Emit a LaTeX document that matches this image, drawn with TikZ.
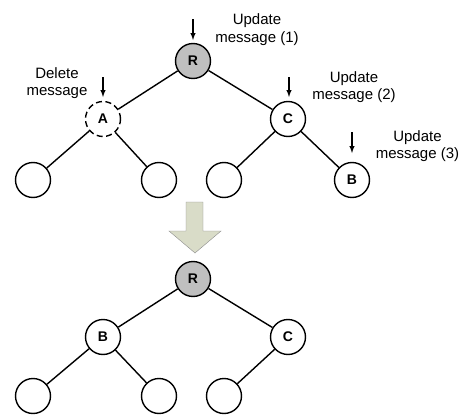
\documentclass[tikz,border=0pt]{standalone}
\usepackage{fontspec}
\setmainfont{Liberation Sans}
\begin{document}
\begin{tikzpicture}[x=1pt,y=-1pt,>=latex,
	every node/.style={font=\fontsize{15}{17.5}\selectfont},
	tnode/.style={draw,circle,line width=1.4pt,minimum size=35pt,inner sep=0pt,font=\fontsize{14}{16}\selectfont\bfseries},
	msg/.style={align=center,inner sep=0pt}]
				\useasboundingbox (0,0) rectangle (461,415);
				% before
				\node[tnode,fill=black!25] (root) at (193,61) {R};
				\node[tnode,dash pattern=on 6pt off 3.5pt] (a) at (103,119) {A};
				\node[tnode] (c) at (288,119) {C};
				\node[tnode] (l1) at (33,180) {};
				\node[tnode] (l2) at (159,180) {};
				\node[tnode] (l3) at (224,180) {};
				\node[tnode] (b) at (352,180) {B};

				\draw[line width=1.4pt] (root) -- (a);
				\draw[line width=1.4pt] (root) -- (c);
				\draw[line width=1.4pt] (a) -- (l1);
				\draw[line width=1.4pt] (a) -- (l2);
				\draw[line width=1.4pt] (c) -- (l3);
				\draw[line width=1.4pt] (c) -- (b);

				\node[msg] (m1) at (257,29.5) {Update\\message (1)};
				\node[msg] (m0) at (57,83) {Delete\\message};
				\node[msg] (m2) at (354,87) {Update\\message (2)};
				\node[msg] (m3) at (417.5,146) {Update\\message (3)};

				\coordinate (r0) at (193,19);
				\coordinate (r1) at (193,40);
				\coordinate (a0) at (103,77);
				\coordinate (a1) at (103,97);
				\coordinate (c0) at (289,77);
				\coordinate (c1) at (289,97);
				\coordinate (b0) at (352,132);
				\coordinate (b1) at (352,153);
				\draw[->,line width=1.4pt] (r0) -- (r1);
				\draw[->,line width=1.4pt] (a0) -- (a1);
				\draw[->,line width=1.4pt] (c0) -- (c1);
				\draw[->,line width=1.4pt] (b0) -- (b1);

				% big arrow
				\draw[draw=black!45,fill={rgb,255:red,217;green,220;blue,200}]
					(186,202) -- (203,202) -- (203,231) -- (221,231) -- (195,253)
					-- (169,231) -- (186,231) -- cycle;

				% after
				\node[tnode,fill=black!25] (root2) at (193,279) {R};
				\node[tnode] (b2) at (103,337) {B};
				\node[tnode] (c2) at (288,337) {C};
				\node[tnode] (k1) at (33,396) {};
				\node[tnode] (k2) at (159,396) {};
				\node[tnode] (k3) at (224,396) {};

				\draw[line width=1.4pt] (root2) -- (b2);
				\draw[line width=1.4pt] (root2) -- (c2);
				\draw[line width=1.4pt] (b2) -- (k1);
				\draw[line width=1.4pt] (b2) -- (k2);
				\draw[line width=1.4pt] (c2) -- (k3);
			\end{tikzpicture}
\end{document}
